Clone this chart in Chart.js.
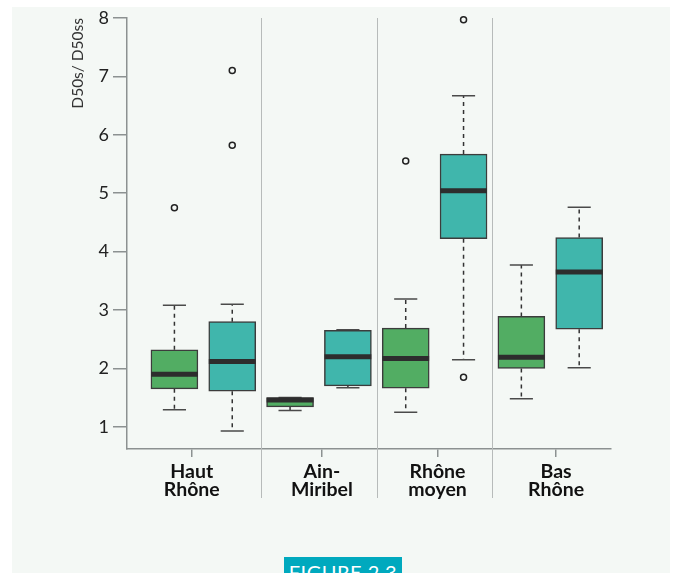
<!DOCTYPE html>
<html>
<head>
<meta charset="utf-8">
<script src="https://cdn.jsdelivr.net/npm/chart.js@4/dist/chart.umd.min.js"></script>
<style>
  html, body { margin: 0; padding: 0; background: #ffffff; width: 675px; height: 573px; overflow: hidden; }
  #panel { position: absolute; left: 12px; top: 7px; width: 658px; height: 566px; background: #f4f8f5; }
  #wrap { position: absolute; left: 0; top: 0; width: 675px; height: 573px; }
  #figure {
    position: absolute; left: 284px; top: 557px; width: 118px; height: 30px;
    background: #00a9be; color: #ffffff; font-family: Lato, sans-serif; font-size: 20px;
    line-height: 20px; padding-top: 5px; box-sizing: border-box; text-align: center; letter-spacing: 0.5px;
  }
</style>
</head>
<body>
<div id="panel"></div>
<div id="wrap"><canvas id="chart" width="675" height="573"></canvas></div>
<div id="figure">FIGURE 2.3</div>
<script>
// Regions (x axis labels) and where their labels sit
const regions = [['Haut', 'Rhône'], ['Ain-', 'Miribel'], ['Rhône', 'moyen'], ['Bas', 'Rhône']];
const labelPositions = [1.3, 3.55, 5.55, 7.6];
const separators = [2.5, 4.5, 6.5];
const yTicks = [1, 2, 3, 4, 5, 6, 7, 8];

// Green boxes (first box of each region)
const greenPos = [1, 3, 5, 7];
const greenMin = [1.29, 1.28, 1.25, 1.48];
const greenQ1 = [1.65, 1.34, 1.66, 2.00];
const greenMed = [1.90, 1.46, 2.17, 2.19];
const greenQ3 = [2.32, 1.50, 2.69, 2.89];
const greenMax = [3.08, 1.50, 3.19, 3.77];
const greenOut = [[4.75], [], [5.55], []];

// Teal boxes (second box of each region)
const tealPos = [2, 4, 6, 8];
const tealMin = [0.93, 1.67, 2.15, 2.01];
const tealQ1 = [1.61, 1.70, 4.22, 2.67];
const tealMed = [2.12, 2.20, 5.04, 3.65];
const tealQ3 = [2.80, 2.65, 5.67, 4.24];
const tealMax = [3.10, 2.66, 6.67, 4.76];
const tealOut = [[5.82, 7.10], [], [1.85, 7.97], []];

const GREEN = '#52ad63';
const TEAL = '#40b6ac';
const PANEL = '#f4f8f5';
const AXIS = '#8c9191';
const capHalf = 0.2;
const medHalf = 0.405;

function boxData(pos, q1, q3) {
  return pos.map((p, i) => ({ x: p, y: [q1[i], q3[i]] }));
}
function whiskerData(pos, min, q1, q3, max) {
  const d = [];
  pos.forEach((p, i) => {
    d.push({ x: p, y: q3[i] }, { x: p, y: max[i] }, { x: p, y: null });
    d.push({ x: p, y: q1[i] }, { x: p, y: min[i] }, { x: p, y: null });
  });
  return d;
}
function hLines(pos, vals, half) {
  const d = [];
  pos.forEach((p, i) => {
    d.push({ x: p - half, y: vals[i] }, { x: p + half, y: vals[i] }, { x: p, y: null });
  });
  return d;
}
function outlierData(pos, out) {
  const d = [];
  pos.forEach((p, i) => out[i].forEach(v => d.push({ x: p, y: v })));
  return d;
}

const lineBase = { type: 'line', pointRadius: 0, spanGaps: false, fill: false, borderCapStyle: 'butt' };

// Region separators
const separatorPlugin = {
  id: 'separators',
  beforeDatasetsDraw(chart) {
    const { ctx, scales: { x, y }, chartArea } = chart;
    ctx.save();
    ctx.strokeStyle = '#b7bbba';
    ctx.lineWidth = 1;
    separators.forEach(s => {
      const px = Math.round(x.getPixelForValue(s)) + 0.5;
      ctx.beginPath();
      ctx.moveTo(px, y.getPixelForValue(8));
      ctx.lineTo(px, chartArea.bottom + 49);
      ctx.stroke();
    });
    ctx.restore();
  }
};

new Chart(document.getElementById('chart'), {
  type: 'bar',
  data: {
    datasets: [
      { ...lineBase, data: whiskerData(greenPos, greenMin, greenQ1, greenQ3, greenMax),
        borderColor: '#333', borderWidth: 1.5, borderDash: [4, 4], order: 4 },
      { ...lineBase, data: whiskerData(tealPos, tealMin, tealQ1, tealQ3, tealMax),
        borderColor: '#333', borderWidth: 1.5, borderDash: [4, 4], order: 4 },
      { ...lineBase, data: hLines(greenPos, greenMin, capHalf).concat(hLines(greenPos, greenMax, capHalf)),
        borderColor: '#4a4a4a', borderWidth: 1.5, order: 3 },
      { ...lineBase, data: hLines(tealPos, tealMin, capHalf).concat(hLines(tealPos, tealMax, capHalf)),
        borderColor: '#4a4a4a', borderWidth: 1.5, order: 3 },
      { type: 'bar', data: boxData(greenPos, greenQ1, greenQ3), backgroundColor: GREEN,
        borderColor: '#3c3c3c', borderWidth: 1.5, borderSkipped: false, barThickness: 47, grouped: false, order: 2 },
      { type: 'bar', data: boxData(tealPos, tealQ1, tealQ3), backgroundColor: TEAL,
        borderColor: '#3c3c3c', borderWidth: 1.5, borderSkipped: false, barThickness: 47, grouped: false, order: 2 },
      { ...lineBase, data: hLines(greenPos, greenMed, medHalf), borderColor: '#2d2d2d', borderWidth: 5, order: 1 },
      { ...lineBase, data: hLines(tealPos, tealMed, medHalf), borderColor: '#2d2d2d', borderWidth: 5, order: 1 },
      { type: 'line', showLine: false, clip: false, data: outlierData(greenPos, greenOut).concat(outlierData(tealPos, tealOut)),
        pointRadius: 3, pointBackgroundColor: PANEL, pointBorderColor: '#222', pointBorderWidth: 1.5, order: 0 }
    ]
  },
  options: {
    responsive: false,
    animation: false,
    layout: { padding: { left: 60, right: 64, top: 18, bottom: 0 } },
    plugins: { legend: { display: false }, tooltip: { enabled: false } },
    scales: {
      x: {
        type: 'linear', min: 0.18, max: 8.55, offset: false,
        afterBuildTicks: s => { s.ticks = labelPositions.map(v => ({ value: v })); },
        afterFit: s => { s.height = 124; },
        grid: { offset: false, drawOnChartArea: false, tickLength: 8, color: AXIS, lineWidth: 1.5 },
        border: { color: AXIS, width: 1.5 },
        ticks: {
          autoSkip: false, maxRotation: 0, padding: 5, color: '#111',
          font: { family: 'Lato', size: 19.5, weight: 'bold', lineHeight: 0.95 },
          callback: (v, i) => regions[i]
        }
      },
      y: {
        type: 'linear', min: 0.62, max: 8,
        afterBuildTicks: s => { s.ticks = yTicks.map(v => ({ value: v })); },
        afterFit: s => { s.width = 67; },
        grid: { drawOnChartArea: false, tickLength: 14, color: AXIS, lineWidth: 1.5 },
        border: { color: AXIS, width: 1.5 },
        ticks: { padding: 4, color: '#222', font: { family: 'Lato', size: 18 } },
        title: {
          display: true, text: 'D50s/ D50ss', align: 'end', color: '#333',
          font: { family: 'Lato', size: 15.5 }, padding: { top: 9, bottom: 0 }
        }
      }
    }
  },
  plugins: [separatorPlugin]
});
</script>
</body>
</html>
